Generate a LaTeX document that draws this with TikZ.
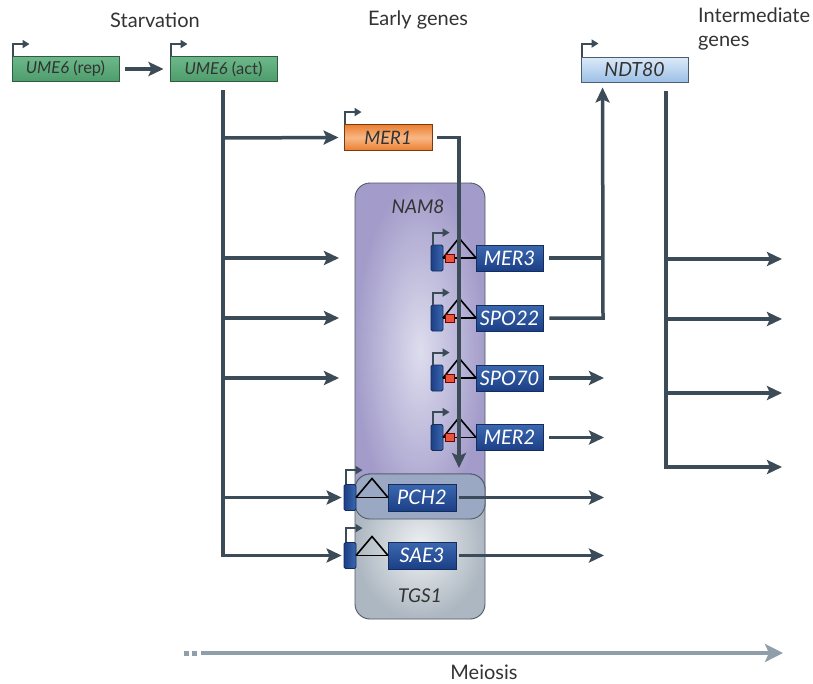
\documentclass[tikz,border=0pt]{standalone}
\usepackage{fontspec}
\setmainfont{Lato}
\usetikzlibrary{arrows.meta,calc}
\definecolor{lc}{HTML}{3B4C58}
\definecolor{txt}{HTML}{333333}
\definecolor{grnt}{HTML}{6CB88A}
\definecolor{grnb}{HTML}{4E9C6B}
\definecolor{grnd}{HTML}{2E5C3E}
\definecolor{orn}{HTML}{EC7F30}
\definecolor{ornl}{HTML}{F7B785}
\definecolor{ornd}{HTML}{7A3A10}
\definecolor{ndtl}{HTML}{DCEAF8}
\definecolor{ndtd}{HTML}{9CC0E6}
\definecolor{ndtb}{HTML}{4A5E70}
\definecolor{gbt}{HTML}{3B68B0}
\definecolor{gbb}{HTML}{1C3F86}
\definecolor{gbd}{HTML}{142D5C}
\definecolor{purl}{HTML}{DEDDEE}
\definecolor{purd}{HTML}{A39CCA}
\definecolor{greyl}{HTML}{EEF1F3}
\definecolor{greyd}{HTML}{ADB7C1}
\definecolor{ovl}{HTML}{9BA8C3}
\definecolor{meio}{HTML}{8E9FAA}
\definecolor{redsq}{HTML}{E8553A}
\definecolor{boxbd}{HTML}{4E5A64}
\tikzset{
 ln/.style={draw=lc, line width=3.5pt},
 arr/.style={ln, -{Stealth[length=15pt,width=14pt,inset=3pt]}},
 prom/.style={draw=lc, line width=2pt, -{Triangle[length=7pt,width=8pt]}},
 lbl/.style={font=\fontsize{20}{24}\selectfont, text=txt},
 glabel/.style={font=\fontsize{19}{22}\selectfont\itshape, text=txt, inner sep=0pt},
 greenbox/.style={draw=grnd, line width=0.9pt, top color=grnt, bottom color=grnb, minimum width=107pt, minimum height=25pt, inner sep=0pt, text=txt, font=\fontsize{16.5}{18}\selectfont},
 orangebox/.style={draw=ornd, line width=0.9pt, top color=orn, bottom color=orn, middle color=ornl, minimum width=88pt, minimum height=26pt, inner sep=0pt, text=txt, font=\fontsize{18.5}{20}\selectfont\itshape},
 bluebox/.style={draw=ndtb, line width=0.9pt, top color=ndtl, bottom color=ndtd, minimum width=107pt, minimum height=25pt, inner sep=0pt, text=txt, font=\fontsize{19.5}{20}\selectfont\itshape},
 genebox/.style={draw=gbd, line width=0.8pt, top color=gbt, bottom color=gbb, minimum width=67pt, minimum height=26pt, inner sep=0pt, text=white, font=\fontsize{20}{22}\selectfont\itshape},
 exon/.style={draw=gbd, line width=0.8pt, left color=gbb, right color=gbt, minimum width=12pt, minimum height=26pt, inner sep=0pt, rounded corners=1.5pt},
 redbox/.style={draw=red!45!black, fill=redsq, minimum width=9pt, minimum height=8pt, inner sep=0pt, line width=0.6pt},
 intron/.style={draw=black, line width=1.6pt, line join=miter},
}
\begin{document}
\begin{tikzpicture}[x=1pt,y=-1pt]
\useasboundingbox (0,0) rectangle (813,683);
\fill[white] (0,0) rectangle (813,683);

% headings
\node[lbl] (starv) at (155,20) {Starvation};
\node[lbl] (early) at (418,20) {Early genes};
\node[lbl, anchor=north west, align=left, inner sep=0pt] (inter) at (698,8) {Intermediate\\genes};

% top genes
\node[greenbox] (rep) at (65.5,69) {\itshape UME6\upshape\ (rep)};
\node[greenbox] (act) at (223.5,69) {\itshape UME6\upshape\ (act)};
\node[orangebox] (mer1) at (388,137.5) {MER1};
\node[bluebox] (ndt) at (634.5,69.5) {NDT80};
\draw[prom] ([xshift=1pt]rep.north west) -- ++(0,-12) -- ++(17,0);
\draw[prom] ([xshift=1pt]act.north west) -- ++(0,-12) -- ++(17,0);
\draw[prom] ([xshift=1pt]mer1.north west) -- ++(0,-12) -- ++(17,0);
\draw[prom] ([xshift=1pt]ndt.north west) -- ++(0,-13) -- ++(17,0);
\draw[arr] ($(rep.east)+(6,0)$) -- ($(act.west)+(-6,0)$);

% regulator boxes
\shade[inner color=purl, outer color=purd, rounded corners=15pt] (355,183) rectangle (485,519);
\draw[boxbd, line width=0.9pt, rounded corners=15pt] (355,183) rectangle (485,519);
\shade[inner color=greyl, outer color=greyd, rounded corners=15pt] (355,474) rectangle (485,619);
\draw[boxbd, line width=0.9pt, rounded corners=15pt] (355,474) rectangle (485,619);
\draw[boxbd, line width=0.9pt, fill=ovl, rounded corners=15pt] (355,474) rectangle (485,519);
\node[glabel] (nam8) at (418,207) {NAM8};
\node[glabel] (tgs1) at (420,596) {TGS1};

% early genes with NAM8
\foreach \n/\t/\y in {mer3/MER3/258, spo22/SPO22/318, spo70/SPO70/378, mer2/MER2/437.5}{
  \node[exon] (\n-e) at (437,\y) {};
  \node[genebox] (\n) at (509.5,\y) {\t};
  \draw[intron] (\n-e.east) -- (\n.west);
  \draw[intron] (443,\y) -- (459,\y-20) -- (476,\y);
  \node[redbox] (\n-r) at (450,\y) {};
  \draw[prom] ([xshift=2pt]\n-e.north west) -- ++(0,-12) -- ++(17,0);
}
% early genes with TGS1
\foreach \n/\t/\y in {pch2/PCH2/497.5, sae3/SAE3/555.5}{
  \node[exon] (\n-e) at (350,\y) {};
  \node[genebox, minimum width=68pt, minimum height=27pt] (\n) at (422,\y) {\t};
  \draw[intron] (\n-e.east) -- (\n.west);
  \draw[intron] (356,\y) -- (372,\y-19) -- (388,\y);
  \draw[prom] ([xshift=2pt]\n-e.north west) -- ++(0,-14) -- ++(17,0);
}

% UME6 (act) branches
\coordinate (actdown) at (223,90);
\coordinate (b1) at (223,138);
\coordinate (b2) at (223,258);
\coordinate (b3) at (223,318);
\coordinate (b4) at (223,378);
\coordinate (b5) at (223,497.5);
\coordinate (b6) at (223,555.5);
\coordinate (t2) at (339,258);
\coordinate (t3) at (339,318);
\coordinate (t4) at (339,378);
\draw[ln] (actdown) -- (b6);
\draw[arr] (b1) -- ($(mer1.west)+(-5,0)$);
\draw[arr] (b2) -- (t2);
\draw[arr] (b3) -- (t3);
\draw[arr] (b4) -- (t4);
\draw[arr] (b5) -- ($(pch2-e.west)+(-2,0)$);
\draw[arr] ([xshift=-1.75pt]b6) -- ($(sae3-e.west)+(-2,0)$);

% MER1 to the NAM8 genes
\coordinate (m1d) at (459,468);
\draw[arr] ($(mer1.east)+(5,0)$) -| (m1d);

% to NDT80
\coordinate (nc) at (603,318);
\draw[ln] ($(mer3.east)+(6,0)$) -- (603,258);
\draw[arr] ($(spo22.east)+(6,0)$) -- (nc) -- ($(ndt.south west)+(22,5)$);

% other early gene outputs
\coordinate (o70) at (604,378);
\coordinate (o2) at (604,437.5);
\coordinate (op) at (604,497.5);
\coordinate (os) at (604,555.5);
\draw[arr] ($(spo70.east)+(6,0)$) -- (o70);
\draw[arr] ($(mer2.east)+(6,0)$) -- (o2);
\draw[arr] ($(pch2.east)+(3,0)$) -- (op);
\draw[arr] ($(sae3.east)+(3,0)$) -- (os);

% NDT80 outputs
\coordinate (nd0) at (666,91);
\coordinate (nd1) at (666,259);
\coordinate (nd2) at (666,319);
\coordinate (nd3) at (666,393);
\coordinate (nd4) at (666,467);
\coordinate (ne1) at (782,259);
\coordinate (ne2) at (782,319);
\coordinate (ne3) at (782,393);
\coordinate (ne4) at (782,467);
\draw[ln] (nd0) -- (nd4);
\draw[arr] (nd1) -- (ne1);
\draw[arr] (nd2) -- (ne2);
\draw[arr] (nd3) -- (ne3);
\draw[arr] ([xshift=-1.75pt]nd4) -- (ne4);

% meiosis
\coordinate (ms) at (201,653);
\coordinate (me) at (783,653);
\fill[meio] (184,650.5) rectangle (189,655.5);
\fill[meio] (192,650.5) rectangle (197,655.5);
\draw[draw=meio, line width=4.5pt, -{Stealth[length=18pt,width=18pt,inset=4pt]}] (ms) -- (me);
\node[lbl] (meiosis) at (484,672) {Meiosis};
\end{tikzpicture}
\end{document}
